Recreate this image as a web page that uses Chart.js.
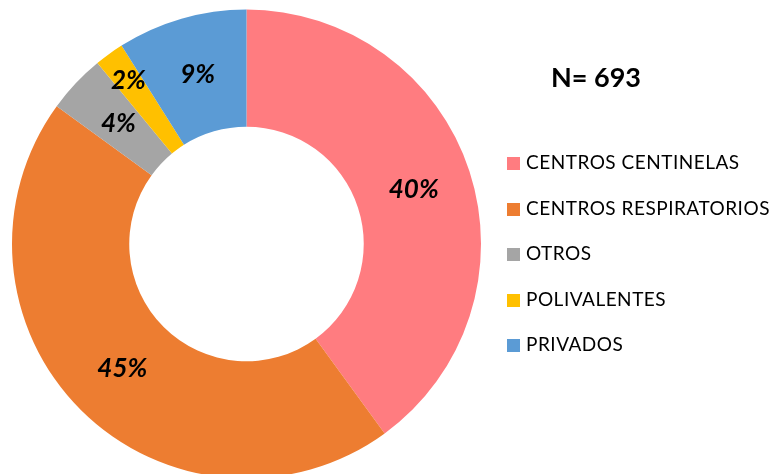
<!DOCTYPE html>
<html>
<head>
<meta charset="utf-8">
<script src="https://cdn.jsdelivr.net/npm/chart.js@4/dist/chart.umd.min.js"></script>
<style>
  body { margin: 0; background: #fff; overflow: hidden; width: 784px; height: 474px; position: relative; }
  #wrap { position: absolute; left: 0; top: 0; width: 784px; height: 490px; }
  #total { position: absolute; left: 551px; top: 60px; font: bold 27px Lato, sans-serif; color: #000; }
  #legend { position: absolute; left: 507px; top: 150px; font: 19px Lato, sans-serif; letter-spacing: 0.5px; color: #000; }
  #legend div { height: 45.6px; line-height: 24px; white-space: nowrap; }
  #legend span.box { display: inline-block; width: 13px; height: 13px; margin-right: 6px; vertical-align: -1px; }
</style>
</head>
<body>
<div id="wrap"><canvas id="donut" width="784" height="490"></canvas></div>
<div id="total">N= 693</div>
<div id="legend"></div>
<script>
// muestras por tipo de centro
const centros = ["CENTROS CENTINELAS", "CENTROS RESPIRATORIOS", "OTROS", "POLIVALENTES", "PRIVADOS"];
const muestras = [277, 312, 28, 14, 62];
const porcentajes = ["40%", "45%", "4%", "2%", "9%"];
const colores = ["#ff7c80", "#ed7d31", "#a5a5a5", "#ffc000", "#5b9bd5"];
// how far out each label sits (0 = hole edge, 1 = outer edge)
const labelPos = [0.5, 0.5, 0.5, 0.72, 0.5];

const legend = document.getElementById("legend");
centros.forEach((c, i) => {
  const row = document.createElement("div");
  row.innerHTML = '<span class="box" style="background:' + colores[i] + '"></span>' + c;
  legend.appendChild(row);
});

const pctLabels = {
  id: "pctLabels",
  afterDatasetsDraw(chart) {
    const ctx = chart.ctx;
    ctx.save();
    ctx.font = "italic bold 26px Lato, sans-serif";
    ctx.fillStyle = "#000";
    ctx.textAlign = "center";
    ctx.textBaseline = "middle";
    chart.getDatasetMeta(0).data.forEach((arc, i) => {
      const p = arc.getProps(["x", "y", "startAngle", "endAngle", "innerRadius", "outerRadius"]);
      const a = (p.startAngle + p.endAngle) / 2;
      const r = p.innerRadius + (p.outerRadius - p.innerRadius) * labelPos[i];
      ctx.fillText(porcentajes[i], p.x + Math.cos(a) * r, p.y + Math.sin(a) * r);
    });
    ctx.restore();
  }
};

new Chart(document.getElementById("donut"), {
  type: "doughnut",
  data: {
    labels: centros,
    datasets: [{
      data: muestras,
      backgroundColor: colores,
      borderWidth: 0
    }]
  },
  options: {
    responsive: false,
    animation: false,
    cutout: "50%",
    layout: { padding: { left: 12, right: 303, top: 9.5, bottom: 11.5 } },
    plugins: { legend: { display: false }, tooltip: { enabled: false } }
  },
  plugins: [pctLabels]
});
</script>
</body>
</html>
